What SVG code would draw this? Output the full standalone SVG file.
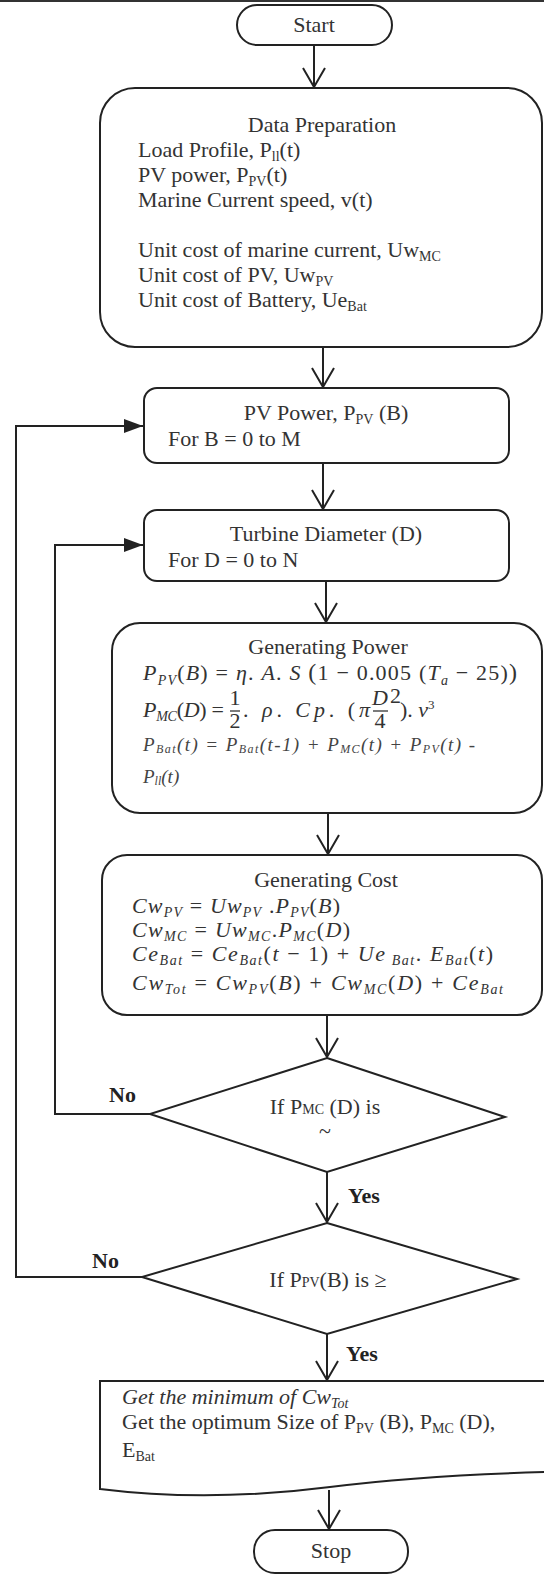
<svg xmlns="http://www.w3.org/2000/svg" width="544" height="1576" viewBox="0 0 544 1576">
<style>
.t{font-family:"Liberation Serif","Times New Roman",serif;font-size:22px;fill:#333}
.c{text-anchor:middle}
.b{font-weight:bold;fill:#222}
.i{font-style:italic}
.u{font-style:normal}
.m{font-family:"Liberation Serif","Times New Roman",serif;font-style:italic;font-size:22px;fill:#333}
.ti{font-family:"Liberation Serif","Times New Roman",serif;font-style:italic;font-size:19px;fill:#444}
.s{font-size:14px}
.s2{font-size:12px}
.box{fill:#fff;stroke:#222;stroke-width:2}
.ln{fill:none;stroke:#222;stroke-width:2}
.fr{stroke:#333;stroke-width:1.3}
</style>
<defs>
<marker id="open" markerWidth="24" markerHeight="26" refX="20" refY="12" orient="auto" markerUnits="userSpaceOnUse"><path d="M1,1 L20,12 L1,23" fill="none" stroke="#222" stroke-width="2"/></marker>
<marker id="solid" markerWidth="20" markerHeight="16" refX="19" refY="8" orient="auto" markerUnits="userSpaceOnUse"><path d="M0,1 L19,8 L0,15 Z" fill="#222"/></marker>
</defs>
<line x1="0" y1="1" x2="544" y2="1" stroke="#333" stroke-width="2"/>

<g id="start">
<rect class="box" x="237" y="5" width="155" height="40" rx="20"/>
<text class="t c" x="314" y="32">Start</text>
</g>

<g id="data-preparation">
<rect class="box" x="100" y="88" width="442" height="259" rx="35"/>
<text class="t c" x="322" y="132">Data Preparation</text>
<text class="t" x="138" y="157">Load Profile, P<tspan class="s" dy="4">ll</tspan><tspan dy="-4">(t)</tspan></text>
<text class="t" x="138" y="182">PV power, P<tspan class="s" dy="4">PV</tspan><tspan dy="-4">(t)</tspan></text>
<text class="t" x="138" y="207">Marine Current speed, v(t)</text>
<text class="t" x="138" y="257">Unit cost of marine current, Uw<tspan class="s" dy="4">MC</tspan></text>
<text class="t" x="138" y="282">Unit cost of PV, Uw<tspan class="s" dy="4">PV</tspan></text>
<text class="t" x="138" y="307">Unit cost of Battery, Ue<tspan class="s" dy="4">Bat</tspan></text>
</g>

<g id="pv-power">
<rect class="box" x="144" y="388" width="365" height="75" rx="13"/>
<text class="t c" x="326" y="420">PV Power, P<tspan class="s" dy="4">PV</tspan><tspan dy="-4"> (B)</tspan></text>
<text class="t" x="168" y="446">For B = 0 to M</text>
</g>

<g id="turbine-diameter">
<rect class="box" x="144" y="510" width="365" height="71" rx="13"/>
<text class="t c" x="326" y="541">Turbine Diameter (D)</text>
<text class="t" x="168" y="567">For D = 0 to N</text>
</g>

<g id="generating-power">
<rect class="box" x="112" y="623" width="430" height="190" rx="28"/>
<text class="t c" x="328" y="654">Generating Power</text>
<text class="m" x="143" y="680" textLength="374" lengthAdjust="spacing">P<tspan class="s" dy="5">PV</tspan><tspan dy="-5" class="u">(</tspan>B<tspan class="u">) = </tspan>η<tspan class="u">. </tspan>A<tspan class="u">. </tspan>S <tspan class="u" font-size="24">(</tspan><tspan class="u">1 − 0.005 (</tspan>T<tspan class="s" dy="5">a</tspan><tspan dy="-5" class="u"> − 25)</tspan><tspan class="u" font-size="24">)</tspan></text>
<text class="m" x="143" y="717" textLength="81" lengthAdjust="spacing">P<tspan class="s" dy="4">MC</tspan><tspan dy="-4" class="u">(</tspan>D<tspan class="u">) =</tspan></text>
<text class="t c" x="235" y="705" font-size="15">1</text>
<line class="fr" x1="230" y1="711" x2="240" y2="711"/>
<text class="t c" x="235" y="728" font-size="15">2</text>
<text class="m" x="243" y="717" textLength="127" lengthAdjust="spacing"><tspan class="u">. </tspan>ρ<tspan class="u">. </tspan>Cp<tspan class="u">. (</tspan>π</text>
<text class="m c" x="380" y="705" font-size="16">D</text>
<line class="fr" x1="373" y1="711" x2="388" y2="711"/>
<text class="t c" x="380" y="728" font-size="15">4</text>
<text class="t" x="390" y="703" font-size="11">2</text>
<text class="m" x="400" y="717"><tspan class="u">). </tspan>v<tspan class="u" font-size="13" dy="-8">3</tspan></text>
<text class="ti" x="143" y="751" textLength="332" lengthAdjust="spacing">P<tspan class="s2" dy="2">Bat</tspan><tspan dy="-2">(t) = P</tspan><tspan class="s2" dy="2">Bat</tspan><tspan dy="-2">(t-1) + P</tspan><tspan class="s2" dy="2">MC</tspan><tspan dy="-2">(t) + P</tspan><tspan class="s2" dy="2">PV</tspan><tspan dy="-2">(t) -</tspan></text>
<text class="ti" x="143" y="783">P<tspan class="s2" dy="2">ll</tspan><tspan dy="-2">(t)</tspan></text>
</g>

<g id="generating-cost">
<rect class="box" x="102" y="855" width="440" height="160" rx="25"/>
<text class="t c" x="326" y="887">Generating Cost</text>
<text class="m" x="132" y="913" textLength="208" lengthAdjust="spacing">Cw<tspan class="s" dy="4">PV</tspan><tspan dy="-4" class="u"> = </tspan>Uw<tspan class="s" dy="4">PV</tspan><tspan dy="-4" class="u"> .</tspan>P<tspan class="s" dy="4">PV</tspan><tspan dy="-4" class="u">(</tspan>B<tspan class="u">)</tspan></text>
<text class="m" x="132" y="937" textLength="218" lengthAdjust="spacing">Cw<tspan class="s" dy="4">MC</tspan><tspan dy="-4" class="u"> = </tspan>Uw<tspan class="s" dy="4">MC</tspan><tspan dy="-4" class="u">.</tspan>P<tspan class="s" dy="4">MC</tspan><tspan dy="-4" class="u">(</tspan>D<tspan class="u">)</tspan></text>
<text class="m" x="132" y="961" textLength="361" lengthAdjust="spacing">Ce<tspan class="s" dy="4">Bat</tspan><tspan dy="-4" class="u"> = </tspan>Ce<tspan class="s" dy="4">Bat</tspan><tspan dy="-4" class="u">(</tspan>t<tspan class="u"> − 1) + </tspan>Ue<tspan class="s" dy="4"> Bat</tspan><tspan dy="-4" class="u">. </tspan>E<tspan class="s" dy="4">Bat</tspan><tspan dy="-4" class="u">(</tspan>t<tspan class="u">)</tspan></text>
<text class="m" x="132" y="990" textLength="371" lengthAdjust="spacing">Cw<tspan class="s" dy="4">Tot</tspan><tspan dy="-4" class="u"> = </tspan>Cw<tspan class="s" dy="4">PV</tspan><tspan dy="-4" class="u">(</tspan>B<tspan class="u">) + </tspan>Cw<tspan class="s" dy="4">MC</tspan><tspan dy="-4" class="u">(</tspan>D<tspan class="u">) +  </tspan>Ce<tspan class="s" dy="4">Bat</tspan></text>
</g>

<g id="decision-pmc">
<polygon class="box" points="327,1058 505,1117 327,1172 150,1114"/>
<text class="t c" x="325" y="1114" font-size="21">If P<tspan font-size="14">MC</tspan> (D) is</text>
<text class="t c" x="325" y="1138" font-size="9">~</text>
</g>

<g id="decision-ppv">
<polygon class="box" points="327,1223 517,1279 327,1334 142,1277"/>
<text class="t c" x="328" y="1287" font-size="21">If P<tspan font-size="14">PV</tspan>(B) is ≥</text>
</g>

<g id="result">
<path class="box" d="M100,1381 L546,1381 L546,1472 C 470,1474 400,1478 330,1487 C 260,1496 180,1499 100,1489 Z"/>
<text class="t i" x="122" y="1404">Get the minimum of Cw<tspan class="s" dy="4">Tot</tspan></text>
<text class="t" x="122" y="1429">Get the optimum Size of P<tspan class="s" dy="4">PV</tspan><tspan dy="-4"> (B), P</tspan><tspan class="s" dy="4">MC</tspan><tspan dy="-4"> (D),</tspan></text>
<text class="t" x="122" y="1457">E<tspan class="s" dy="4">Bat</tspan></text>
</g>

<g id="stop">
<rect class="box" x="254" y="1530" width="154" height="43" rx="21"/>
<text class="t c" x="331" y="1558">Stop</text>
</g>

<g id="connectors">
<line class="ln" x1="314" y1="45" x2="314" y2="87" marker-end="url(#open)"/>
<line class="ln" x1="323" y1="347" x2="323" y2="387" marker-end="url(#open)"/>
<line class="ln" x1="323" y1="463" x2="323" y2="509" marker-end="url(#open)"/>
<line class="ln" x1="326" y1="581" x2="326" y2="622" marker-end="url(#open)"/>
<line class="ln" x1="328" y1="813" x2="328" y2="854" marker-end="url(#open)"/>
<line class="ln" x1="327" y1="1015" x2="327" y2="1057" marker-end="url(#open)"/>
<line class="ln" x1="327" y1="1172" x2="327" y2="1222" marker-end="url(#open)"/>
<line class="ln" x1="327" y1="1334" x2="327" y2="1380" marker-end="url(#open)"/>
<line class="ln" x1="329" y1="1490" x2="329" y2="1529" marker-end="url(#open)"/>
<polyline class="ln" points="150,1114 55,1114 55,545 143,545" marker-end="url(#solid)"/>
<polyline class="ln" points="142,1277 16,1277 16,426 143,426" marker-end="url(#solid)"/>
<text class="t b" x="109" y="1102" font-size="21">No</text>
<text class="t b" x="348" y="1203" font-size="21">Yes</text>
<text class="t b" x="92" y="1268" font-size="21">No</text>
<text class="t b" x="346" y="1361" font-size="21">Yes</text>
</g>
</svg>
